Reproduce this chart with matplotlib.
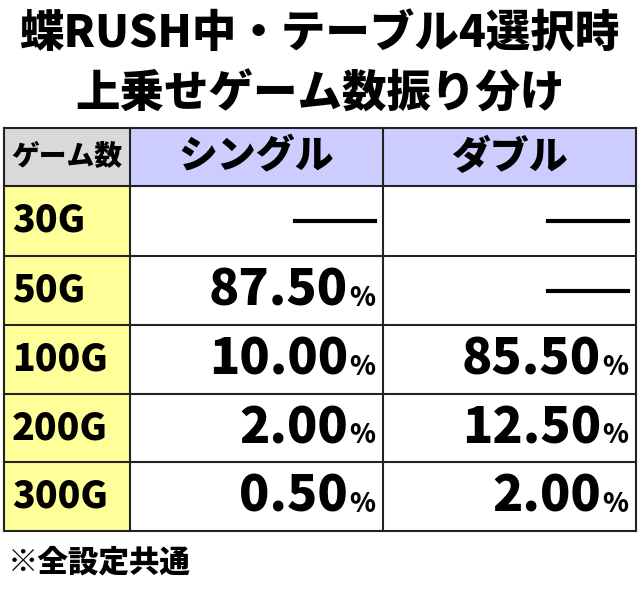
import matplotlib
matplotlib.use("Agg")
import matplotlib.pyplot as plt
from matplotlib.patches import Rectangle

plt.rcParams["font.family"] = ["Noto Sans CJK JP", "DejaVu Sans"]
plt.rcParams["font.weight"] = "heavy"

TITLE = ["蝶RUSH中・テーブル4選択時", "上乗せゲーム数振り分け"]
HEADERS = ["ゲーム数", "シングル", "ダブル"]
GAMES = ["30G", "50G", "100G", "200G", "300G"]
SINGLE = [None, "87.50", "10.00", "2.00", "0.50"]
DOUBLE = [None, None, "85.50", "12.50", "2.00"]
NOTE = "※全設定共通"

W, H = 640, 589
fig = plt.figure(figsize=(W / 100, H / 100), dpi=100)
ax = fig.add_axes([0, 0, 1, 1])
ax.set_xlim(0, W); ax.set_ylim(H, 0); ax.axis("off")

ax.text(W / 2, 34, TITLE[0], ha="center", va="center", fontsize=32, fontweight="heavy")
ax.text(W / 2, 94, TITLE[1], ha="center", va="center", fontsize=32, fontweight="heavy")

xs = [4, 130, 383, 636]
ys = [128, 186, 256, 325, 394, 462, 531]

ax.add_patch(Rectangle((xs[0], ys[0]), xs[1] - xs[0], ys[1] - ys[0], facecolor="#D9D9D9", edgecolor="none"))
ax.add_patch(Rectangle((xs[1], ys[0]), xs[3] - xs[1], ys[1] - ys[0], facecolor="#CCCCFF", edgecolor="none"))
ax.add_patch(Rectangle((xs[0], ys[1]), xs[1] - xs[0], ys[-1] - ys[1], facecolor="#FFFF99", edgecolor="none"))
for x in xs:
    ax.plot([x, x], [ys[0], ys[-1]], color="#222222", lw=1.5)
for y in ys:
    ax.plot([xs[0], xs[-1]], [y, y], color="#222222", lw=1.5)

ymid = lambda i: (ys[i] + ys[i + 1]) / 2
ax.text((xs[0] + xs[1]) / 2, ymid(0), HEADERS[0], ha="center", va="center", fontsize=20, fontweight="heavy")
ax.text((xs[1] + xs[2]) / 2, ymid(0), HEADERS[1], ha="center", va="center", fontsize=28, fontweight="heavy")
ax.text((xs[2] + xs[3]) / 2, ymid(0), HEADERS[2], ha="center", va="center", fontsize=28, fontweight="heavy")

for r, g in enumerate(GAMES):
    yc = ymid(r + 1)
    ax.text(xs[0] + 8, yc, g, ha="left", va="center", fontsize=27, fontweight="heavy")
    for c, vals in ((1, SINGLE), (2, DOUBLE)):
        v = vals[r]
        right = xs[c + 1] - 8
        if v is None:
            ax.plot([right - 80, right], [yc, yc], color="black", lw=3)
        else:
            ax.text(right, yc + 7, "%", ha="right", va="center", fontsize=19, fontweight="heavy")
            ax.text(right - 27, yc, v, ha="right", va="center", fontsize=36, fontweight="heavy")

ax.text(8, 562, NOTE, ha="left", va="center", fontsize=22, fontweight="heavy")

fig.savefig("out.png", dpi=100, facecolor="white")
